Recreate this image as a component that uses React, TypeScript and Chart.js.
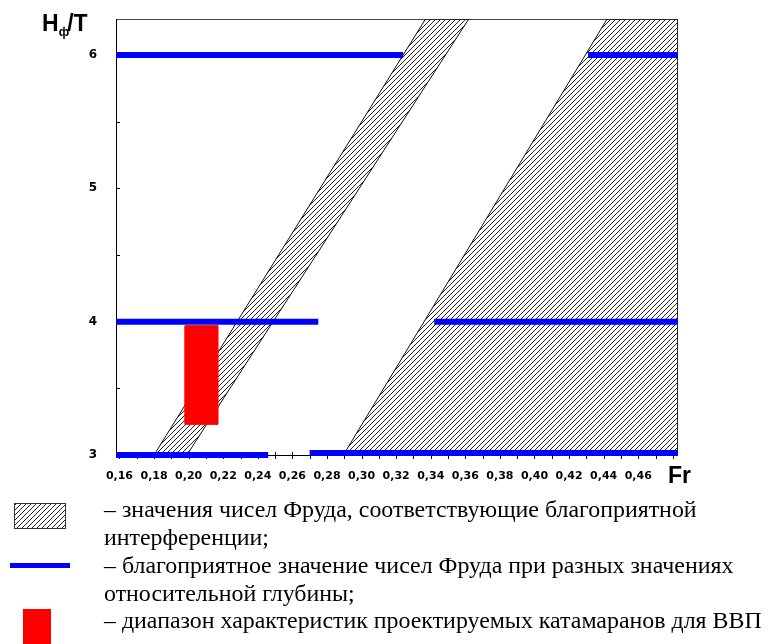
import React, { useEffect, useRef } from 'react';
import { Chart, registerables } from 'chart.js';

Chart.register(...registerables);

// Axis ranges
const FR_MIN = 0.158;
const FR_MAX = 0.483;
const HT_MIN = 3;
const HT_MAX = 6.27;

// Favourable Froude numbers for different relative depths (blue segments)
const blueLevels = [6, 6, 4, 4, 3, 3.015];
const blueFrom = [0.158, 0.431, 0.158, 0.342, 0.158, 0.27];
const blueTo = [0.324, 0.483, 0.275, 0.483, 0.246, 0.483];

// Hatched zones (favourable interference), polygon vertices
const zoneLeftFr = [0.18, 0.199, 0.362, 0.337, 0.18];
const zoneLeftHT = [3, 3, 6.27, 6.27, 3];
const zoneRightFr = [0.2895, 0.483, 0.483, 0.442, 0.2895];
const zoneRightHT = [3, 3, 6.27, 6.27, 3];

// Range of designed catamarans (red)
const redFr = [0.198, 0.217, 0.217, 0.198, 0.198];
const redHT = [3.23, 3.23, 3.97, 3.97, 3.23];

const legendLines = [
  '– значения чисел Фруда, соответствующие благоприятной',
  'интерференции;',
  '– благоприятное значение чисел Фруда при разных значениях',
  'относительной глубины;',
  '– диапазон характеристик проектируемых катамаранов для ВВП',
];
const legendBaselines = [517, 545, 573, 601, 628];

const pts = (xs: number[], ys: number[]) => xs.map((x, i) => ({ x, y: ys[i] }));

function makeHatch(ctx: CanvasRenderingContext2D) {
  const c = document.createElement('canvas');
  c.width = 5;
  c.height = 5;
  const g = c.getContext('2d')!;
  g.strokeStyle = '#222';
  g.lineWidth = 1;
  g.beginPath();
  g.moveTo(-1, 6);
  g.lineTo(6, -1);
  g.moveTo(-1, 1);
  g.lineTo(1, -1);
  g.moveTo(4, 6);
  g.lineTo(6, 4);
  g.stroke();
  return ctx.createPattern(c, 'repeat');
}

const decorPlugin = {
  id: 'decor',
  beforeDatasetsDraw(chart: any) {
    const { ctx, chartArea: a, scales } = chart;
    const x = scales.x;
    const y = scales.y;
    ctx.save();
    ctx.strokeStyle = '#444';
    ctx.lineWidth = 1;
    ctx.strokeRect(a.left + 0.5, a.top + 0.5, a.right - a.left - 1, a.bottom - a.top);
    ctx.strokeStyle = '#000';
    ctx.beginPath();
    ctx.moveTo(a.left + 0.5, a.top);
    ctx.lineTo(a.left + 0.5, a.bottom + 1);
    ctx.moveTo(a.left, a.bottom + 0.5);
    ctx.lineTo(a.right, a.bottom + 0.5);
    x.ticks.forEach((t: any) => {
      const px = Math.round(x.getPixelForValue(t.value)) + 0.5;
      ctx.moveTo(px, a.bottom - 3);
      ctx.lineTo(px, a.bottom + 4);
    });
    y.ticks.forEach((t: any) => {
      const py = Math.round(y.getPixelForValue(t.value)) + 0.5;
      ctx.moveTo(a.left, py);
      ctx.lineTo(a.left + 4, py);
    });
    ctx.stroke();
    ctx.restore();
  },
};

export default function App() {
  const ref = useRef<HTMLCanvasElement>(null);

  useEffect(() => {
    const canvas = ref.current!;
    const ctx = canvas.getContext('2d')!;
    const hatch = makeHatch(ctx);

    const legendPlugin = {
      id: 'legendBelow',
      afterDraw(chart: any) {
        const c = chart.ctx as CanvasRenderingContext2D;
        c.save();
        // symbols
        c.fillStyle = hatch as any;
        c.fillRect(14, 503, 52, 26);
        c.strokeStyle = '#333';
        c.lineWidth = 1;
        c.strokeRect(14.5, 503.5, 51, 25);
        c.fillStyle = '#0000ff';
        c.fillRect(10, 563, 60, 5);
        c.fillStyle = '#ff0000';
        c.fillRect(23, 609, 28, 35);
        // texts, sized so that the widest line matches the reference width
        const family = "'Liberation Serif', 'Times New Roman', Tinos, serif";
        c.font = `26px ${family}`;
        const w = c.measureText(legendLines[4]).width || 658;
        const size = Math.max(18, Math.min(30, (26 * 658) / w));
        c.font = `${size.toFixed(2)}px ${family}`;
        c.fillStyle = '#000';
        c.textBaseline = 'alphabetic';
        c.textAlign = 'left';
        legendLines.forEach((t, i) => c.fillText(t, 104, legendBaselines[i]));
        c.restore();
      },
    };

    const blueSets = blueLevels.map((lv, i) => ({
      label: 'blue' + i,
      data: [
        { x: blueFrom[i], y: lv },
        { x: blueTo[i], y: lv },
      ],
      borderColor: '#0000ff',
      borderWidth: 6,
      borderCapStyle: 'butt' as const,
      pointRadius: 0,
      fill: false,
      clip: false as const,
      order: 0,
    }));

    const chart = new Chart(canvas, {
      type: 'line',
      data: {
        datasets: [
          ...blueSets,
          {
            label: 'red',
            data: pts(redFr, redHT),
            borderColor: '#ff0000',
            backgroundColor: '#ff0000',
            borderWidth: 1,
            pointRadius: 0,
            fill: 'shape',
            order: 1,
          },
          {
            label: 'zoneLeft',
            data: pts(zoneLeftFr, zoneLeftHT),
            borderColor: '#111',
            backgroundColor: hatch as any,
            borderWidth: 1,
            pointRadius: 0,
            fill: 'shape',
            order: 2,
          },
          {
            label: 'zoneRight',
            data: pts(zoneRightFr, zoneRightHT),
            borderColor: '#111',
            backgroundColor: hatch as any,
            borderWidth: 1,
            pointRadius: 0,
            fill: 'shape',
            order: 2,
          },
        ] as any,
      },
      options: {
        responsive: false,
        animation: false,
        devicePixelRatio: 1,
        layout: { padding: { left: 0, right: 95, top: 19, bottom: 154 } },
        plugins: {
          legend: { display: false },
          tooltip: { enabled: false },
        },
        elements: { line: { tension: 0 } },
        scales: {
          x: {
            type: 'linear',
            min: FR_MIN,
            max: FR_MAX,
            grid: { display: false },
            border: { display: false },
            afterFit: (s: any) => {
              s.height = 35;
            },
            ticks: {
              stepSize: 0.01,
              includeBounds: false,
              autoSkip: false,
              maxRotation: 0,
              minRotation: 0,
              padding: 7,
              color: '#000',
              font: { family: 'DejaVu Sans', weight: 'bold', size: 11 },
              callback: (v: any) => {
                const n = Math.round(Number(v) * 100);
                if (n % 2 !== 0 || n > 46) return '';
                return (n / 100).toFixed(2).replace('.', ',');
              },
            },
          },
          y: {
            type: 'linear',
            min: HT_MIN,
            max: HT_MAX,
            grid: { display: false },
            border: { display: false },
            afterFit: (s: any) => {
              s.width = 116;
            },
            ticks: {
              stepSize: 0.5,
              includeBounds: false,
              autoSkip: false,
              padding: 11,
              color: '#000',
              font: { family: 'DejaVu Sans', weight: 'bold', size: 12 },
              callback: (v: any) => {
                const n = Number(v);
                return Math.abs(n - Math.round(n)) < 1e-6 ? String(Math.round(n)) : '';
              },
            },
          },
        },
      } as any,
      plugins: [decorPlugin, legendPlugin],
    });

    return () => chart.destroy();
  }, []);

  const sans = "'Liberation Sans'";

  return (
    <div style={{ position: 'absolute', left: 0, top: 0, width: 773, height: 644, background: '#fff', overflow: 'hidden' }}>
      <canvas ref={ref} width={773} height={644} style={{ position: 'absolute', left: 0, top: 0, width: 773, height: 644 }} />
      <div style={{ position: 'absolute', left: 42, top: 12, fontFamily: sans, fontWeight: 'bold', fontSize: 23, lineHeight: '23px', whiteSpace: 'nowrap', color: '#000' }}>
        H<span style={{ fontSize: 12, position: 'relative', top: 5, marginRight: -2 }}>ф</span>/T
      </div>
      <div style={{ position: 'absolute', left: 668, top: 464, fontFamily: sans, fontWeight: 'bold', fontSize: 23, lineHeight: '23px', color: '#000' }}>Fr</div>
    </div>
  );
}
